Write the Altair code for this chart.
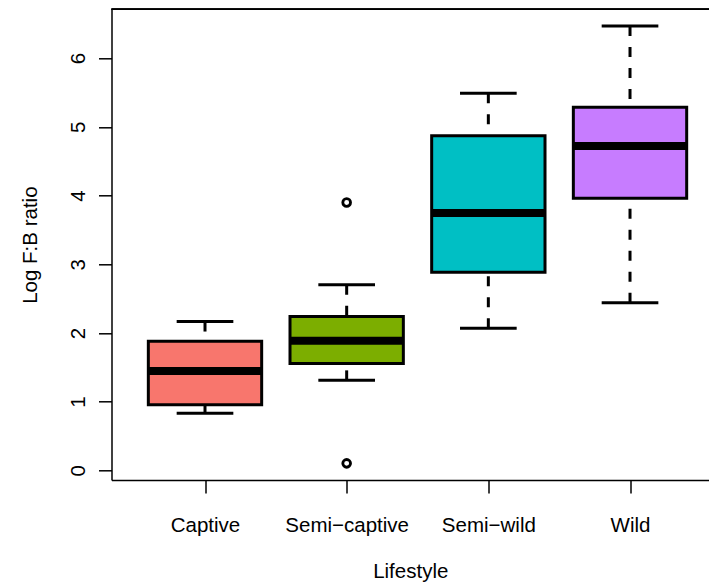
import altair as alt
import pandas as pd

# ---- data ----
lifestyles = ["Captive", "Semi\u2212captive", "Semi\u2212wild", "Wild"]
positions = [1, 2, 3, 4]
whisker_low = [0.83, 1.31, 2.07, 2.44]
q1 = [0.955, 1.556, 2.885, 3.96]
median = [1.445, 1.886, 3.747, 4.721]
q3 = [1.881, 2.239, 4.871, 5.283]
whisker_high = [2.166, 2.70, 5.487, 6.466]
colors = ["#F8766D", "#7CAE00", "#00BFC4", "#C77CFF"]
outlier_pos = [2, 2]
outlier_value = [3.897, 0.102]
y_ticks = [0, 1, 2, 3, 4, 5, 6]

BOX_HALF = 0.4
CAP_HALF = 0.2
W = 597.5
H = 470.7
FONT = "Liberation Sans"
FS = 20.5

df = pd.DataFrame({
    "lifestyle": lifestyles,
    "pos": positions,
    "wlo": whisker_low,
    "q1": q1,
    "med": median,
    "q3": q3,
    "whi": whisker_high,
})
df["left"] = df["pos"] - BOX_HALF
df["right"] = df["pos"] + BOX_HALF
df["cleft"] = df["pos"] - CAP_HALF
df["cright"] = df["pos"] + CAP_HALF

out_df = pd.DataFrame({"pos": outlier_pos, "val": outlier_value})

xscale = alt.Scale(domain=[0.34, 0.34 + W / 141.67], nice=False, zero=False)
yscale = alt.Scale(domain=[-0.14, 6.71], nice=False, zero=False)

label_expr = "[" + ",".join("'" + s + "'" for s in lifestyles) + "][datum.value-1]"

xaxis = alt.Axis(
    values=positions, labelExpr=label_expr, title="Lifestyle", grid=False,
    tickSize=13, tickWidth=1.5, tickColor="black", domainColor="black", domainWidth=1.5,
    labelFont=FONT, labelFontSize=FS, labelColor="black", labelPadding=22,
    labelBaseline="top", labelFlush=False,
    titleFont=FONT, titleFontSize=FS, titleFontWeight="normal", titleColor="black",
    titleY=91, titleBaseline="middle",
)
yaxis = alt.Axis(
    values=y_ticks, format="d", title="Log F:B ratio", grid=False,
    tickSize=13, tickWidth=1.5, tickColor="black", domainColor="black", domainWidth=1.5,
    labelFont=FONT, labelFontSize=FS, labelColor="black", labelAngle=-90,
    labelAlign="center", labelBaseline="bottom", labelPadding=10,
    titleFont=FONT, titleFontSize=FS, titleFontWeight="normal", titleColor="black",
    titleX=-81.5, titleY=H / 2, titleAngle=-90, titleAlign="center", titleBaseline="middle",
)

base = alt.Chart(df)

whisk_hi = base.mark_rule(color="black", strokeWidth=3, strokeDash=[10, 11], strokeCap="butt").encode(
    x=alt.X("pos:Q", scale=xscale, axis=xaxis),
    y=alt.Y("whi:Q", scale=yscale, axis=yaxis),
    y2="q3:Q",
)
whisk_lo = base.mark_rule(color="black", strokeWidth=3, strokeDash=[10, 11], strokeCap="butt").encode(
    x="pos:Q", y="wlo:Q", y2="q1:Q",
)
cap_hi = base.mark_rule(color="black", strokeWidth=3).encode(
    x="cleft:Q", x2="cright:Q", y="whi:Q",
)
cap_lo = base.mark_rule(color="black", strokeWidth=3).encode(
    x="cleft:Q", x2="cright:Q", y="wlo:Q",
)
boxes = base.mark_bar(stroke="black", strokeWidth=3, opacity=1).encode(
    x="left:Q", x2="right:Q", y="q1:Q", y2="q3:Q",
    color=alt.Color("lifestyle:N", scale=alt.Scale(domain=lifestyles, range=colors), legend=None),
)
meds = base.mark_rule(color="black", strokeWidth=8, strokeCap="butt").encode(
    x="left:Q", x2="right:Q", y="med:Q",
)
outs = alt.Chart(out_df).mark_point(shape="circle", filled=False, color="black", strokeWidth=2.8, size=60, opacity=1).encode(
    x="pos:Q", y="val:Q",
)
top_frame = alt.Chart(df).mark_rule(color="black", strokeWidth=1.5).encode(
    x=alt.value(0), x2=alt.value(W), y=alt.value(0),
)

chart = alt.layer(whisk_hi, whisk_lo, cap_hi, cap_lo, boxes, meds, outs, top_frame).properties(
    width=W, height=H,
    autosize=alt.AutoSizeParams(type="none"),
    padding={"left": 103.5, "top": 1.3, "right": 0, "bottom": 104},
    background="white",
).configure_view(stroke=None)

chart.save("out.html", embed_options={"renderer": "svg", "actions": False})
